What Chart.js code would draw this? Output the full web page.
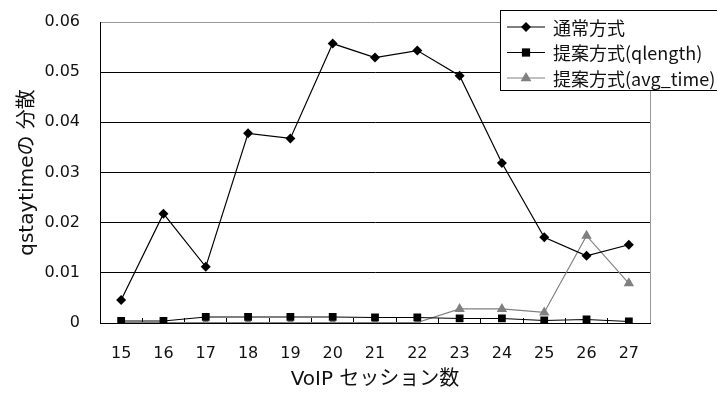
<!DOCTYPE html>
<html>
<head>
<meta charset="utf-8">
<script src="https://cdn.jsdelivr.net/npm/chart.js@4/dist/chart.umd.min.js"></script>
<style>
  html, body { margin: 0; padding: 0; background: #fff; }
  #wrap { width: 717px; height: 398px; }
</style>
</head>
<body>
<div id="wrap"><canvas id="c" width="717" height="398"></canvas></div>
<script>
// VoIP session counts on the x axis
const sessions = ['15', '16', '17', '18', '19', '20', '21', '22', '23', '24', '25', '26', '27'];
// variance of qstaytime for each method
const normalMethod = [0.0046, 0.0218, 0.0112, 0.0378, 0.0368, 0.0557, 0.0529, 0.0543, 0.0493, 0.0319, 0.0171, 0.0134, 0.0156];
const proposedQlength = [0.0004, 0.0004, 0.0012, 0.0012, 0.0012, 0.0012, 0.0011, 0.0011, 0.0009, 0.0009, 0.0005, 0.0007, 0.0003];
const proposedAvgTime = [0.0001, 0.0001, 0.0001, 0.0001, 0.0001, 0.0001, 0.0001, 0.0001, 0.0028, 0.0028, 0.0021, 0.0174, 0.0079];
const seriesNames = ['通常方式', '提案方式(qlength)', '提案方式(avg_time)'];
const yTicks = [0, 0.01, 0.02, 0.03, 0.04, 0.05, 0.06];

const FONT = '"DejaVu Sans", "Noto Sans CJK JP", sans-serif';
const JP_FONT = '"Noto Sans CJK JP", sans-serif';
const GRAY = '#808080';

// Plot-area frame on the right, drawn under the data
const framePlugin = {
  id: 'frame',
  beforeDatasetsDraw(chart) {
    const { ctx, chartArea: a } = chart;
    ctx.save();
    ctx.strokeStyle = '#999';
    ctx.lineWidth = 1;
    ctx.beginPath();
    ctx.moveTo(Math.round(a.right) + 0.5, a.top);
    ctx.lineTo(Math.round(a.right) + 0.5, a.bottom);
    ctx.stroke();
    ctx.restore();
  }
};

function drawMarker(ctx, style, x, y, r) {
  ctx.beginPath();
  if (style === 'rectRot') {
    ctx.moveTo(x, y - r); ctx.lineTo(x + r, y); ctx.lineTo(x, y + r); ctx.lineTo(x - r, y);
  } else if (style === 'rect') {
    ctx.rect(x - r * 0.75, y - r * 0.75, r * 1.5, r * 1.5);
  } else {
    ctx.moveTo(x, y - r); ctx.lineTo(x + r * 0.9, y + r * 0.55); ctx.lineTo(x - r * 0.9, y + r * 0.55);
  }
  ctx.closePath();
  ctx.fill();
}

// Boxed legend in the top-right corner
const legendBoxPlugin = {
  id: 'legendBox',
  afterDraw(chart) {
    const ctx = chart.ctx;
    const x0 = 500.5, y0 = 10.5, w = 240, h = 80;
    ctx.save();
    ctx.fillStyle = '#fff';
    ctx.fillRect(x0, y0, w, h);
    ctx.strokeStyle = '#000';
    ctx.lineWidth = 1;
    ctx.strokeRect(x0, y0, w, h);
    ctx.font = '18px ' + JP_FONT;
    ctx.textBaseline = 'middle';
    chart.data.datasets.forEach((ds, i) => {
      const y = 27 + i * 25.5;
      ctx.strokeStyle = ds.borderColor;
      ctx.lineWidth = ds.borderWidth;
      ctx.beginPath();
      ctx.moveTo(507, y);
      ctx.lineTo(545, y);
      ctx.stroke();
      ctx.fillStyle = ds.pointBackgroundColor;
      drawMarker(ctx, ds.pointStyle, 526, y, ds.pointRadius);
      ctx.fillStyle = '#111';
      ctx.fillText(ds.label, 553, y + 1);
    });
    ctx.restore();
  }
};

new Chart(document.getElementById('c'), {
  type: 'line',
  data: {
    labels: sessions,
    datasets: [
      { label: seriesNames[0], data: normalMethod, borderColor: '#000', borderWidth: 1.2,
        pointStyle: 'rectRot', pointRadius: 5, pointBackgroundColor: '#000', pointBorderColor: '#000', pointBorderWidth: 0 },
      { label: seriesNames[1], data: proposedQlength, borderColor: '#000', borderWidth: 1.2,
        pointStyle: 'rect', pointRadius: 5.5, pointBackgroundColor: '#000', pointBorderColor: '#000', pointBorderWidth: 0 },
      { label: seriesNames[2], data: proposedAvgTime, borderColor: GRAY, borderWidth: 1.2,
        pointStyle: 'triangle', pointRadius: 6, pointBackgroundColor: GRAY, pointBorderColor: GRAY, pointBorderWidth: 0 }
    ]
  },
  options: {
    responsive: false,
    animation: false,
    layout: { padding: { top: 22, right: 67, left: 0, bottom: 0 } },
    plugins: { legend: { display: false }, tooltip: { enabled: false } },
    elements: { line: { tension: 0 } },
    scales: {
      x: {
        offset: true,
        grid: { offset: true, drawOnChartArea: false, color: '#000', tickLength: -5, lineWidth: 1 },
        border: { display: true, color: '#000', width: 1 },
        ticks: { color: '#111', font: { family: FONT, size: 16 }, padding: 26 },
        title: { display: true, text: 'VoIP セッション数', color: '#111', font: { family: FONT, size: 20 }, padding: { top: 0, bottom: 6 } },
        afterFit(scale) { scale.height = 75; }
      },
      y: {
        min: 0, max: 0.06,
        afterBuildTicks(scale) { scale.ticks = yTicks.map(v => ({ value: v })); },
        grid: {
          color: ctx => (ctx.tick && ctx.tick.value === 0.06 ? '#999' : '#000'),
          lineWidth: 1, drawTicks: true, tickLength: 19, tickColor: 'rgba(0,0,0,0)'
        },
        border: { display: true, color: '#000', width: 1 },
        ticks: { color: '#111', font: { family: FONT, size: 16 }, padding: 1,
          callback: v => (v === 0 ? '0' : v.toFixed(2)) },
        title: { display: true, text: 'qstaytimeの 分散', color: '#111', font: { family: FONT, size: 20 }, padding: { top: 16, bottom: 0 } },
        afterFit(scale) { scale.width = 100; }
      }
    }
  },
  plugins: [framePlugin, legendBoxPlugin]
});
</script>
</body>
</html>
